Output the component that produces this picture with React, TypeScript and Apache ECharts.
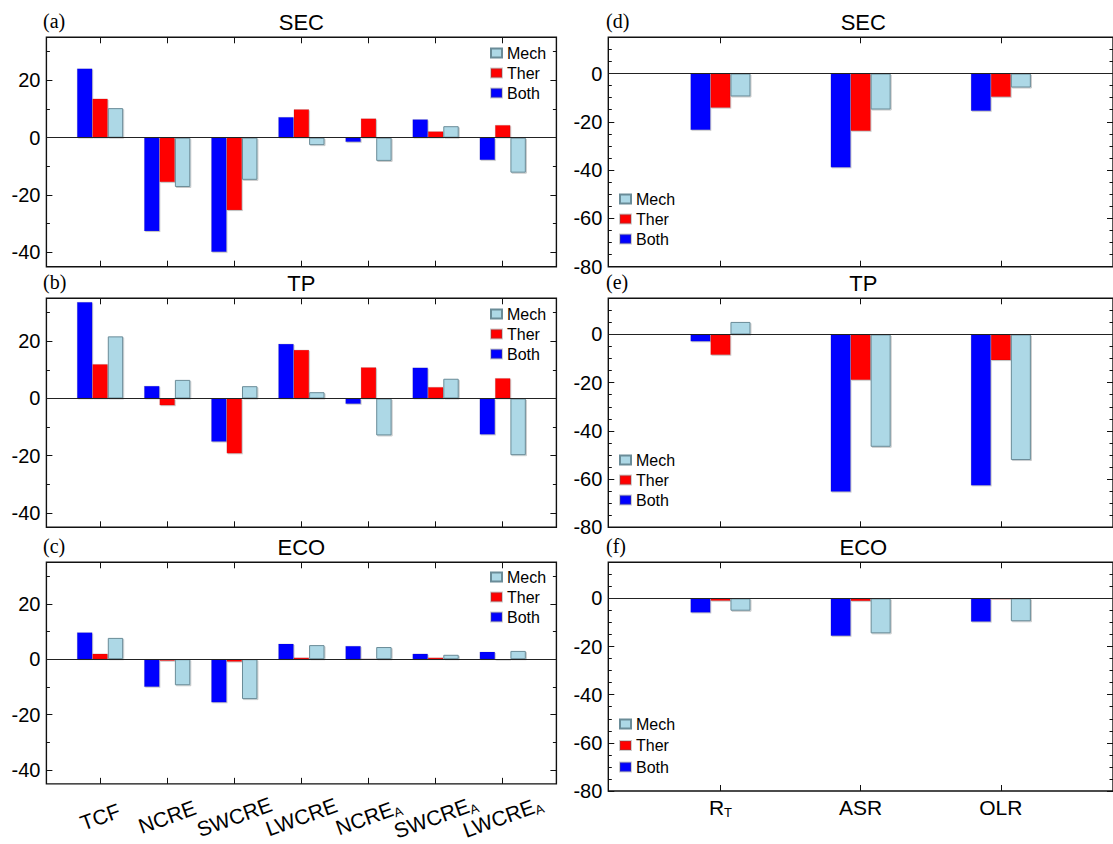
import React, { useEffect, useRef } from 'react';
import * as echarts from 'echarts';

// ---------- data ----------
const leftCategories = ['TCF', 'NCRE', 'SWCRE', 'LWCRE', 'NCRE_A', 'SWCRE_A', 'LWCRE_A'];
const rightCategories = ['R_T', 'ASR', 'OLR'];
const seriesNames = ['Both', 'Ther', 'Mech'];
const legendOrder = ['Mech', 'Ther', 'Both'];

const secLeftBoth = [24.1, -32.6, -39.9, 7.2, -1.5, 6.4, -7.8];
const secLeftTher = [13.6, -15.5, -25.3, 9.9, 6.7, 2.2, 4.4];
const secLeftMech = [10.3, -17.2, -14.7, -2.6, -8.1, 4.0, -12.2];

const tpLeftBoth = [33.7, 4.4, -15.1, 19.1, -1.9, 10.8, -12.6];
const tpLeftTher = [12.0, -2.4, -19.2, 17.0, 10.9, 4.0, 7.1];
const tpLeftMech = [21.7, 6.5, 4.3, 2.2, -12.9, 6.9, -19.8];

const ecoLeftBoth = [9.7, -10.0, -15.6, 5.6, 4.8, 2.0, 2.7];
const ecoLeftTher = [2.0, -0.6, -0.9, 0.6, 0.2, 0.6, -0.3];
const ecoLeftMech = [7.7, -9.4, -14.4, 5.1, 4.4, 1.6, 3.0];

const secRightBoth = [-23.4, -38.9, -15.5];
const secRightTher = [-14.2, -23.8, -9.7];
const secRightMech = [-9.5, -14.9, -5.8];

const tpRightBoth = [-2.9, -65.3, -62.7];
const tpRightTher = [-8.5, -18.9, -10.7];
const tpRightMech = [5.2, -46.6, -52.1];

const ecoRightBoth = [-5.9, -15.6, -9.7];
const ecoRightTher = [-1.0, -1.1, -0.4];
const ecoRightMech = [-5.1, -14.5, -9.5];

const leftYLabels = [-40, -20, 0, 20];
const leftYMinor = [-40, -30, -20, -10, 0, 10, 20, 30];
const rightYLabels = [-80, -60, -40, -20, 0];
const rightYMinor = [-80, -75, -70, -65, -60, -55, -50, -45, -40, -35, -30, -25, -20, -15, -10, -5, 0, 5, 10, 15];

// ---------- styling / layout ----------
const W = 1113;
const H = 844;
const SANS = 'Liberation Sans, Arial, Helvetica, sans-serif';
const SERIF = 'Liberation Serif, Times New Roman, serif';
const COLORS: Record<string, string> = { Both: '#0000ff', Ther: '#ff0000', Mech: '#add8e6' };

const columns = [
  {
    left: 46.4, width: 510, xMin: 0.2, xMax: 7.8, yMin: -45, yMax: 35,
    cats: leftCategories, yLabels: leftYLabels, yMinor: leftYMinor, barWidth: 15.4,
    titleX: 301.4, tagX: 43, legendLeft: 490, rotate: 20,
  },
  {
    left: 608.3, width: 510.2, xMin: 0.2, xMax: 3.8, yMin: -80, yMax: 15,
    cats: rightCategories, yLabels: rightYLabels, yMinor: rightYMinor, barWidth: 20,
    titleX: 863.3, tagX: 606, legendLeft: 619, rotate: 0,
  },
];
const rows = [
  { top: 37.3, height: 229.4 },
  { top: 298.3, height: 229 },
  { top: 562.3, height: 228.7 },
];

const panels = [
  { tag: '(a)', title: 'SEC', col: 0, row: 0, values: [secLeftBoth, secLeftTher, secLeftMech], legendTop: 45 },
  { tag: '(b)', title: 'TP', col: 0, row: 1, values: [tpLeftBoth, tpLeftTher, tpLeftMech], legendTop: 306 },
  { tag: '(c)', title: 'ECO', col: 0, row: 2, values: [ecoLeftBoth, ecoLeftTher, ecoLeftMech], legendTop: 569 },
  { tag: '(d)', title: 'SEC', col: 1, row: 0, values: [secRightBoth, secRightTher, secRightMech], legendTop: 191 },
  { tag: '(e)', title: 'TP', col: 1, row: 1, values: [tpRightBoth, tpRightTher, tpRightMech], legendTop: 452 },
  { tag: '(f)', title: 'ECO', col: 1, row: 2, values: [ecoRightBoth, ecoRightTher, ecoRightMech], legendTop: 716 },
];

function fmtCat(name: string) {
  const parts = name.split('_');
  return parts.length > 1 ? `{b|${parts[0]}}{s|${parts[1]}}` : `{b|${parts[0]}}`;
}

function buildOption() {
  const grid: any[] = [];
  const xAxis: any[] = [];
  const yAxis: any[] = [];
  const series: any[] = [];
  const legend: any[] = [];
  const graphic: any[] = [];

  panels.forEach((p, i) => {
    const c = columns[p.col];
    const r = rows[p.row];
    const xs = c.cats.map((_, k) => k + 1);
    const isBottom = p.row === 2;

    grid.push({
      left: c.left, top: r.top, width: c.width, height: r.height,
      show: true, borderColor: '#111', borderWidth: 1.4, backgroundColor: 'transparent',
    });

    const xBase = {
      gridIndex: i, type: 'value', min: c.xMin, max: c.xMax,
      axisLine: { show: false, onZero: false }, splitLine: { show: false },
      axisTick: { show: true, inside: true, length: 6, customValues: xs, lineStyle: { color: '#111', width: 1 } },
    };
    xAxis.push({
      ...xBase, position: 'bottom',
      axisLabel: isBottom
        ? {
            show: true, customValues: xs, rotate: c.rotate, align: 'center', verticalAlign: 'middle',
            margin: c.rotate ? 33 : 16,
            formatter: (v: number) => fmtCat(c.cats[Math.round(v) - 1] || ''),
            rich: {
              b: { fontSize: 21, fontFamily: SANS, color: '#000', lineHeight: 24 },
              s: { fontSize: 13, fontFamily: SANS, color: '#000', lineHeight: 11, verticalAlign: 'bottom' },
            },
          }
        : { show: false },
    });
    xAxis.push({ ...xBase, position: 'top', axisLabel: { show: false } });

    const yBase = {
      gridIndex: i, type: 'value', min: c.yMin, max: c.yMax,
      axisLine: { show: false, onZero: false }, splitLine: { show: false },
    };
    yAxis.push({
      ...yBase, position: 'left',
      axisTick: { show: true, inside: true, length: 6, customValues: c.yLabels, lineStyle: { color: '#111' } },
      axisLabel: { show: true, customValues: c.yLabels, fontSize: 20, fontFamily: SANS, color: '#000', margin: 6 },
    });
    yAxis.push({
      ...yBase, position: 'left',
      axisTick: { show: true, inside: true, length: 3.5, customValues: c.yMinor, lineStyle: { color: '#111' } },
      axisLabel: { show: false },
    });
    yAxis.push({
      ...yBase, position: 'right',
      axisTick: { show: true, inside: true, length: 6, customValues: c.yLabels, lineStyle: { color: '#111' } },
      axisLabel: { show: false },
    });
    yAxis.push({
      ...yBase, position: 'right',
      axisTick: { show: true, inside: true, length: 3.5, customValues: c.yMinor, lineStyle: { color: '#111' } },
      axisLabel: { show: false },
    });

    seriesNames.forEach((name, s) => {
      const vals = p.values[s];
      const ser: any = {
        type: 'bar', name, xAxisIndex: i * 2, yAxisIndex: i * 4,
        data: vals.map((v, k) => [k + 1, v]),
        barWidth: c.barWidth, barGap: '0%',
        itemStyle: {
          color: COLORS[name],
          borderColor: name === 'Mech' ? '#6a8c98' : 'rgba(90,90,90,0.3)',
          borderWidth: name === 'Mech' ? 1 : 0.5,
          shadowColor: 'rgba(0,0,0,0.22)', shadowOffsetX: 1, shadowOffsetY: 1, shadowBlur: 0,
        },
        z: 2,
      };
      if (s === 0) {
        ser.markLine = {
          silent: true, symbol: ['none', 'none'], label: { show: false },
          lineStyle: { color: '#222', width: 1, type: 'solid' },
          data: [{ yAxis: 0 }],
        };
      }
      series.push(ser);
    });

    legend.push({
      data: legendOrder, orient: 'vertical', left: c.legendLeft, top: p.legendTop,
      itemWidth: 11, itemHeight: 9, itemGap: p.row === 2 && p.col === 1 ? 5.5 : 4, icon: 'rect',
      selectedMode: false, padding: 0,
      textStyle: { fontSize: 16, fontFamily: SANS, color: '#000', lineHeight: 16 },
    });

    graphic.push({
      type: 'text', x: c.titleX, y: r.top - 15,
      style: {
        text: p.title, fill: '#000', font: `22px ${SANS}`,
        align: 'center', verticalAlign: 'middle', textAlign: 'center', textVerticalAlign: 'middle',
      },
    });
    graphic.push({
      type: 'text', x: c.tagX, y: r.top - 16,
      style: {
        text: p.tag, fill: '#000', font: `20px ${SERIF}`,
        align: 'left', verticalAlign: 'middle', textAlign: 'left', textVerticalAlign: 'middle',
      },
    });
  });

  return {
    animation: false,
    backgroundColor: '#ffffff',
    grid, xAxis, yAxis, series, legend, graphic,
  };
}

export default function App() {
  const ref = useRef<HTMLDivElement>(null);
  useEffect(() => {
    document.body.style.margin = '0';
    const chart = echarts.init(ref.current!, null, { renderer: 'svg' });
    chart.setOption(buildOption() as any);
    return () => chart.dispose();
  }, []);
  return <div ref={ref} style={{ width: W, height: H }} />;
}
